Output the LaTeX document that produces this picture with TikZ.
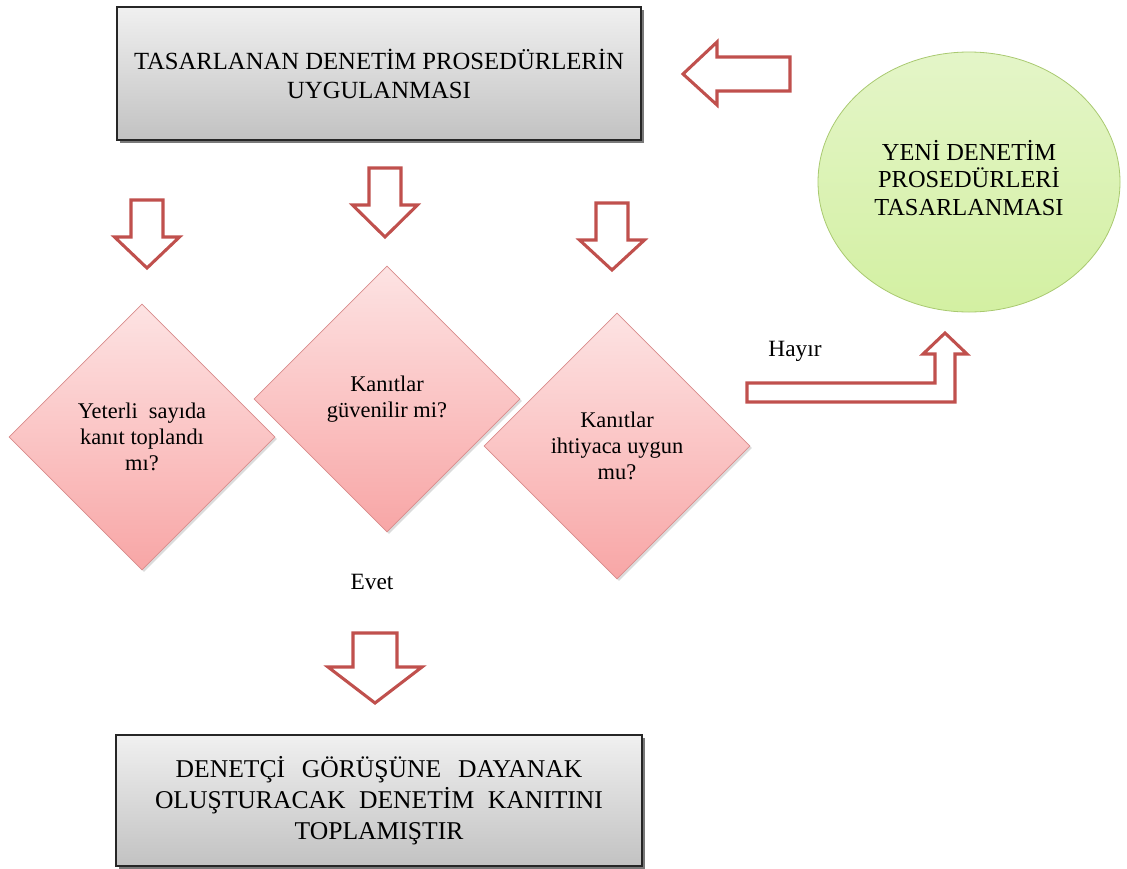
\documentclass[tikz,border=0pt]{standalone}
\usepackage{fontspec}
\setmainfont{Liberation Serif}
\usetikzlibrary{shapes.geometric,shadows}

\definecolor{arrowred}{HTML}{C0504D}
\definecolor{boxtop}{HTML}{F0F0F0}
\definecolor{boxbot}{HTML}{C2C2C2}
\definecolor{diatop}{HTML}{FDE3E3}
\definecolor{diabot}{HTML}{F8A6A6}
\definecolor{diaedge}{HTML}{D98C8C}
\definecolor{ovaltop}{HTML}{E4F5C8}
\definecolor{ovalbot}{HTML}{D3F0A2}
\definecolor{ovaledge}{HTML}{A9C970}

\tikzset{
  procbox/.style={draw=black!85, line width=1.1pt, top color=boxtop, bottom color=boxbot,
    inner sep=0pt, align=center,
    drop shadow={shadow xshift=2pt, shadow yshift=-2pt, fill=black!75, opacity=0.7}},
  question/.style={diamond, aspect=1, draw=diaedge, line width=0.6pt,
    top color=diatop, bottom color=diabot, inner sep=0pt,
    minimum width=199.5pt, minimum height=199.5pt, align=center,
    font=\fontsize{16.8}{19.5}\selectfont,
    drop shadow={shadow xshift=1.5pt, shadow yshift=-1.5pt, fill=black!40, opacity=0.35}},
  newproc/.style={ellipse, draw=ovaledge, line width=0.6pt, top color=ovaltop, bottom color=ovalbot,
    inner sep=0pt, minimum width=226.5pt, minimum height=195pt, align=center,
    font=\fontsize{18.3}{20.6}\selectfont},
  blockarrow/.style={draw=arrowred, line width=2.3pt, fill=white, line join=miter},
  tag/.style={inner sep=0pt, font=\fontsize{17.5}{20}\selectfont},
  pics/downblock/.style n args={5}{code={%
    % #1 shaft half width, #2 head half width, #3 top, #4 head base, #5 tip
    \draw[blockarrow] (-#1,#3) -- (#1,#3) -- (#1,#4) -- (#2,#4) -- (0,#5)
      -- (-#2,#4) -- (-#1,#4) -- cycle;
  }},
}

\begin{document}
\begin{tikzpicture}[x=0.75pt,y=-0.75pt]
\useasboundingbox (0,0) rectangle (1127,868);

% process boxes
\node[procbox, minimum width=393pt, minimum height=99.75pt,
      font=\fontsize{18.5}{21.75}\selectfont] (apply) at (379,73.5)
  {TASARLANAN DENETİM PROSEDÜRLERİN\\UYGULANMASI};

\node[procbox, minimum width=394.5pt, minimum height=98.25pt,
      font=\fontsize{19.2}{23.25}\selectfont] (result) at (379,800.5)
  {\makebox[305pt][s]{DENETÇİ GÖRÜŞÜNE DAYANAK}\\
   \makebox[336pt][s]{OLUŞTURACAK DENETİM KANITINI}\\
   TOPLAMIŞTIR};

% redesign step
\node[newproc] (redesign) at (969,182) {};
\node[inner sep=0pt, align=center, font=\fontsize{18.3}{20.6}\selectfont]
  (redesigntext) at ([yshift=3pt]redesign.center)
  {YENİ DENETİM\\PROSEDÜRLERİ\\TASARLANMASI};

% questions
\node[question] (q1) at (142,437) {Yeterli\ \ sayıda\\kanıt toplandı\\mı?};
\node[question] (q2) at (387,399) {Kanıtlar\\güvenilir mi?};
\node[question] (q3) at (617,446) {Kanıtlar\\ihtiyaca uygun\\mu?};

% labels
\node[tag] (no) at (795,351) {Hayır};
\node[tag] (yes) at (372,582) {Evet};

% block arrows from the applied procedures to the questions
\pic at (147,0) {downblock={16}{32.5}{200}{237}{268}};
\pic at (385,0) {downblock={16}{32.5}{168}{205}{237}};
\pic at (612,0) {downblock={16}{32.5}{203}{240}{270}};

% block arrow to the result
\pic at (375,0) {downblock={22}{47}{633}{667}{703}};

% back to the applied procedures
\draw[blockarrow] (683,74) -- (717,42) -- (717,57) -- (790,57) -- (790,91)
  -- (717,91) -- (717,105) -- cycle;

% "Hayır" branch up to the redesign step
\draw[blockarrow] (747,383) -- (935,383) -- (935,354) -- (923,354) -- (945,333)
  -- (967,354) -- (955,354) -- (955,402) -- (747,402) -- cycle;
\end{tikzpicture}
\end{document}
